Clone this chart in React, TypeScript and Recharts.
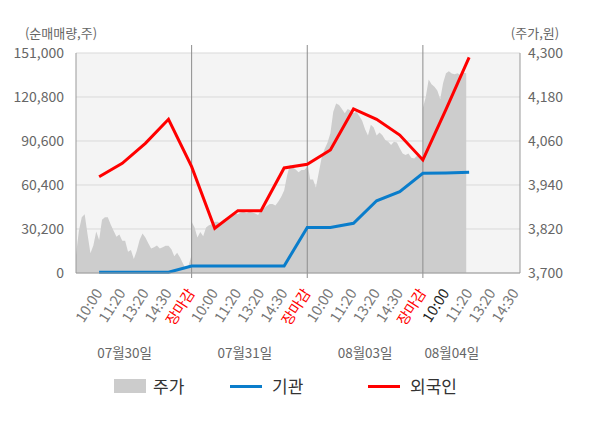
import {
  ComposedChart, Area, Line, XAxis, YAxis, CartesianGrid, ReferenceLine, Legend, Label,
} from "recharts";

// 날짜, 시간 라벨
const dayLabels = ["07월30일", "07월31일", "08월03일", "08월04일"];
const timeLabels = ["10:00", "11:20", "13:20", "14:30", "장마감"];

// 주가(원): 하루를 40칸으로 나눠 읽은 값 (장 시작 ~ 장마감)
const priceDay1 = [
  3749, 3815, 3852, 3860, 3805, 3754, 3775, 3813, 3790, 3845,
  3852, 3852, 3832, 3815, 3799, 3805, 3788, 3788, 3758, 3763,
  3738, 3760, 3790, 3808, 3797, 3781, 3767, 3770, 3775, 3767,
  3770, 3774, 3774, 3765, 3746, 3755, 3742, 3726, 3710, 3722,
  3749,
];
const priceDay2 = [
  3840, 3825, 3797, 3812, 3800, 3824, 3830, 3833, 3840, 3840,
  3835, 3845, 3849, 3854, 3858, 3863, 3860, 3865, 3867, 3863,
  3867, 3865, 3862, 3858, 3872, 3876, 3883, 3888, 3888, 3884,
  3895, 3908, 3925, 3965, 3995, 3988, 3982, 3975, 3981, 3981,
  3990,
];
const priceDay3 = [
  4004, 3955, 3955, 3933, 3975, 4015, 4038, 4055, 4081, 4140,
  4162, 4158, 4147, 4136, 4147, 4143, 4136, 4140, 4128, 4115,
  4092, 4075, 4104, 4097, 4075, 4083, 4076, 4063, 4058, 4049,
  4058, 4056, 4040, 4026, 4022, 4026, 4014, 4012, 4020, 4013,
  4008,
];
const priceDay4 = [
  4150, 4180, 4228, 4215, 4208, 4198, 4174, 4218, 4245, 4250,
  4244, 4242, 4245, 4240, 4247, 4245,
];

// 누적 순매매량(주): 10:00, 11:20, 13:20, 14:30, 장마감 순
const instNet = [
  600, 600, 600, 600, 4800,
  4800, 4800, 4800, 4800, 31300,
  31300, 34100, 49600, 55800, 68400,
  68600, 69100,
];
const foreignNet = [
  66100, 75300, 89000, 105500, 73000,
  30700, 42800, 42800, 72100, 74600,
  84400, 112600, 105500, 94700, 77600,
  112300, 148000,
];

const leftTicks = [0, 30200, 60400, 90600, 120800, 151000];
const rightTicks = [3700, 3820, 3940, 4060, 4180, 4300];

const STEPS = 40;
const SLOTS = 5;
const priceData = [priceDay1, priceDay2, priceDay3, priceDay4].flatMap((day, d) =>
  day.map((p, i) => ({ x: d * SLOTS + (i * SLOTS) / STEPS, price: p })),
);
const flowData = foreignNet.map((f, i) => ({ x: i + 1, foreign: f, inst: instNet[i] }));

const tickLabels = [...timeLabels, ...timeLabels, ...timeLabels, ...timeLabels.slice(0, 4)];
const xTicks = tickLabels.map((_, i) => i + 1);
const currentSlot = 16;
const dateTickAt = [2.1, 7.3, 12.5, 16.25];
const X_DOMAIN: [number, number] = [0, 19.2];

const FONT = "'Noto Sans CJK KR', 'Noto Sans', sans-serif";

function TimeTick({ x, y, payload }: any) {
  const label = tickLabels[payload.value - 1];
  const fill = label === "장마감" ? "#ff0000" : payload.value === currentSlot ? "#222" : "#777";
  return (
    <text transform={`translate(${x + 4},${y + 12}) rotate(-57)`} textAnchor="end" fontSize={14.5} fill={fill}>
      {label}
    </text>
  );
}

function Divider(props: any) {
  const top = Math.min(props.y1, props.y2) - 8;
  const bottom = Math.max(props.y1, props.y2) + 5;
  return <line x1={props.x1} x2={props.x2} y1={top} y2={bottom} stroke="#8c8c8c" strokeWidth={1} />;
}

function LegendBox() {
  const text = { position: "absolute" as const, top: 0, lineHeight: "40px", fontSize: 17, color: "#333" };
  return (
    <div style={{ position: "relative", height: 40, width: 600 }}>
      <span style={{ position: "absolute", left: 106, top: 13, width: 32, height: 14, background: "#cccccc" }} />
      <span style={{ ...text, left: 145 }}>주가</span>
      <span style={{ position: "absolute", left: 222, top: 19, width: 32, height: 3, background: "#0a7dcb" }} />
      <span style={{ ...text, left: 264 }}>기관</span>
      <span style={{ position: "absolute", left: 360, top: 19, width: 32, height: 3, background: "#ff0000" }} />
      <span style={{ ...text, left: 402 }}>외국인</span>
    </div>
  );
}

export default function App() {
  return (
    <div style={{ width: 600, height: 420, fontFamily: FONT }}>
      <ComposedChart width={600} height={420} margin={{ top: 45, right: 28, bottom: 22, left: 8 }}>
        <CartesianGrid xAxisId="a" yAxisId="left" vertical={false} fill="#f4f4f4" stroke="#d9d9d9" />
        <XAxis
          xAxisId="b" dataKey="x" type="number" domain={X_DOMAIN} allowDataOverflow
          ticks={dateTickAt} interval={0} tickFormatter={(_v: number, i: number) => dayLabels[i]}
          axisLine={false} tickLine={false} tick={{ fontSize: 13.5, fill: "#666" }} height={26}
        />
        <XAxis
          xAxisId="a" dataKey="x" type="number" domain={X_DOMAIN} allowDataOverflow
          ticks={xTicks} interval={0} tick={<TimeTick />} tickLine={false}
          axisLine={{ stroke: "#999" }} height={67}
        />
        <YAxis
          yAxisId="left" domain={[0, 151000]} ticks={leftTicks} width={60}
          tickFormatter={(v: number) => v.toLocaleString("en-US")}
          axisLine={{ stroke: "#999" }} tickLine={false} tickMargin={6}
          tick={{ fontSize: 14, fill: "#666" }}
        >
          <Label
            content={({ viewBox }: any) => (
              <text x={viewBox.x + 45} y={viewBox.y - 15} textAnchor="middle" fontSize={13} fill="#666">(순매매량,주)</text>
            )}
          />
        </YAxis>
        <YAxis
          yAxisId="right" orientation="right" domain={[3700, 4300]} ticks={rightTicks} width={60}
          tickFormatter={(v: number) => v.toLocaleString("en-US")}
          axisLine={{ stroke: "#999" }} tickLine={false} tickMargin={2}
          tick={{ fontSize: 14, fill: "#666", textAnchor: "start" }}
        >
          <Label
            content={({ viewBox }: any) => (
              <text x={viewBox.x + 15} y={viewBox.y - 15} textAnchor="middle" fontSize={13} fill="#666">(주가,원)</text>
            )}
          />
        </YAxis>
        <Area
          xAxisId="a" yAxisId="right" data={priceData} dataKey="price" type="linear"
          fill="#cdcdcd" fillOpacity={1} stroke="none" isAnimationActive={false}
        />
        {[5, 10, 15].map(v => (
          <ReferenceLine key={v} xAxisId="a" yAxisId="left" x={v} shape={Divider} />
        ))}
        <Line
          xAxisId="a" yAxisId="left" data={flowData} dataKey="inst" type="linear"
          stroke="#0a7dcb" strokeWidth={3} dot={false} isAnimationActive={false}
        />
        <Line
          xAxisId="a" yAxisId="left" data={flowData} dataKey="foreign" type="linear"
          stroke="#ff0000" strokeWidth={3} dot={false} isAnimationActive={false}
        />
        <Legend verticalAlign="bottom" height={40} wrapperStyle={{ left: 0, width: 600 }} content={() => <LegendBox />} />
      </ComposedChart>
    </div>
  );
}
